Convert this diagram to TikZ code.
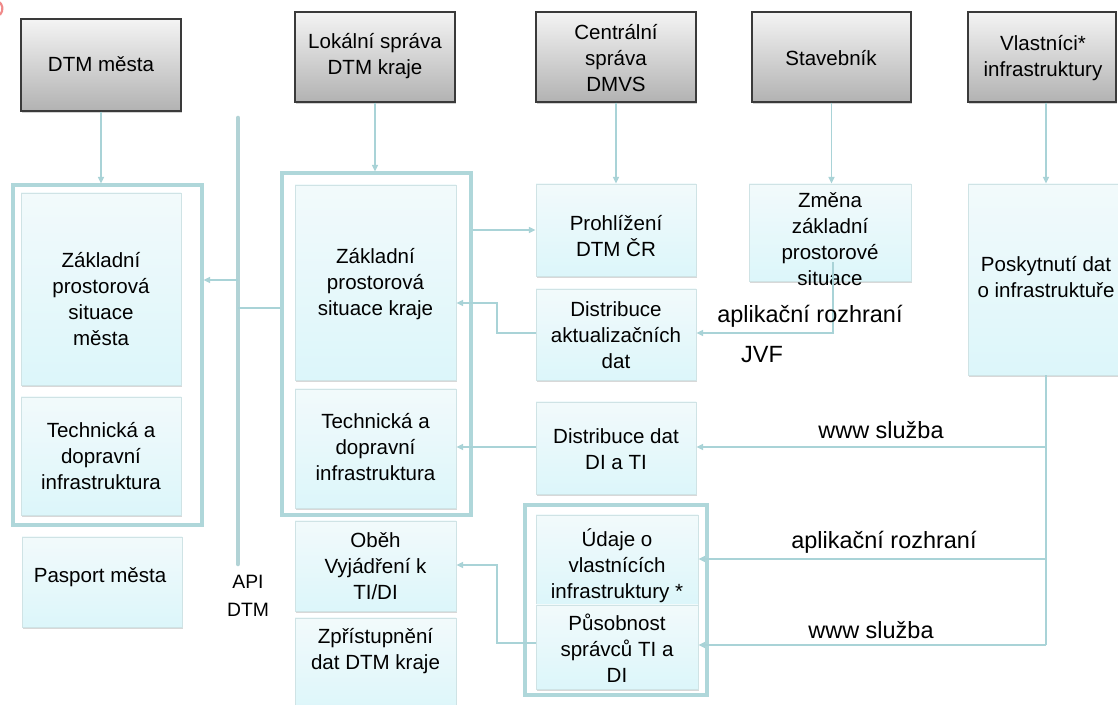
\documentclass[tikz,border=0pt]{standalone}
\usepackage{fontspec}
\setmainfont{Liberation Sans}
\usetikzlibrary{fit,shadows,arrows.meta,calc}

\definecolor{linkc}{HTML}{A9D3D7}
\definecolor{framec}{HTML}{AFD7DA}
\definecolor{apic}{HTML}{B2D3D6}
\definecolor{boxtop}{HTML}{F2FAFB}
\definecolor{boxbot}{HTML}{DCF6FA}
\definecolor{boxline}{HTML}{CFE3E5}
\definecolor{headtop}{HTML}{F4F4F4}
\definecolor{headbot}{HTML}{B2B2B2}
\definecolor{headline}{HTML}{3A3A3A}
\definecolor{markc}{HTML}{F08A8A}

\tikzset{
  head/.style={draw=headline, line width=1pt, top color=headtop, bottom color=headbot,
    inner sep=0pt,
    drop shadow={shadow xshift=1pt, shadow yshift=-1.5pt, opacity=0.35}},
  item/.style={draw=boxline, line width=0.6pt, top color=boxtop, bottom color=boxbot,
    inner sep=0pt,
    drop shadow={shadow xshift=0.8pt, shadow yshift=-1.5pt, opacity=0.3}},
  boxtext/.style={align=center, inner sep=0pt, font=\fontsize{15.4}{19.5}\selectfont},
  frame/.style={draw=framec, line width=2.3pt, inner sep=0pt},
  link/.style={draw=linkc, line width=1.1pt, -{Triangle[length=5pt,width=4.5pt]}},
  plain/.style={draw=linkc, line width=1.1pt},
  apibar/.style={draw=apic, line width=3.4pt, line cap=round},
  lbl/.style={font=\fontsize{17.6}{21}\selectfont, inner sep=0pt},
  apilbl/.style={font=\fontsize{14.5}{21}\selectfont, inner sep=0pt, align=center},
}

\begin{document}
\begin{tikzpicture}[x=0.75pt, y=-0.75pt]
\useasboundingbox (0,0) rectangle (1118,705);
\clip (0,0) rectangle (1118,705);
\fill[white] (0,0) rectangle (1118,705);

% small mark in the corner
\draw[markc, line width=1.6pt] (-2,1) .. controls (3,4) and (4,10) .. (0,15);

% actors
\node[head, fit={(21,19) (181,111)}] (dtmM) {};
\node[head, fit={(295,12) (455,102)}] (lokal) {};
\node[head, fit={(536,12) (696,102)}] (central) {};
\node[head, fit={(752,12) (911,102)}] (staveb) {};
\node[head, fit={(968,12) (1116,102)}] (vlast) {};
\node[boxtext] (dtmM-t) at (101,64) {DTM města};
\node[boxtext] (lokal-t) at (375,56) {Lokální správa\\DTM kraje};
\node[boxtext] (central-t) at (616,58) {Centrální\\správa\\DMVS};
\node[boxtext] (staveb-t) at (831,58) {Stavebník};
\node[boxtext] (vlast-t) at (1043,58) {Vlastníci*\\infrastruktury};

% group frames
\node[frame, fit={(13,185) (202,525)}] (fCity) {};
\node[frame, fit={(282,173) (471,515)}] (fKraj) {};
\node[frame, fit={(525,505) (707,695)}] (fOwn) {};

% city column
\node[item, fit={(21,193) (181,385)}] (zpsM) {};
\node[item, fit={(21,397) (181,515)}] (tdiM) {};
\node[item, fit={(22,537) (182,627)}] (pasM) {};
\node[boxtext] (zpsM-t) at (101,299) {Základní\\prostorová\\situace\\města};
\node[boxtext] (tdiM-t) at (101,456) {Technická a\\dopravní\\infrastruktura};
\node[boxtext] (pasM-t) at (100,577) {Pasport města};

% region column
\node[item, fit={(295,185) (456,380)}] (zpsK) {};
\node[item, fit={(295,389) (456,508)}] (tdiK) {};
\node[item, fit={(295,521) (456,611)}] (obeh) {};
\node[item, fit={(295,618) (456,714)}] (zpr) {};
\node[boxtext] (zpsK-t) at (375.5,284) {Základní\\prostorová\\situace kraje};
\node[boxtext] (tdiK-t) at (375.5,447) {Technická a\\dopravní\\infrastruktura};
\node[boxtext] (obeh-t) at (375.5,566) {Oběh\\Vyjádření k\\TI/DI};
\node[boxtext] (zpr-t) at (375.5,651) {Zpřístupnění\\dat DTM kraje};

% central services
\node[item, fit={(536,184) (696,276)}] (prohl) {};
\node[item, fit={(536,289) (696,380)}] (distA) {};
\node[item, fit={(536,402) (696,494)}] (distB) {};
\node[item, fit={(536,515) (698,605)}] (udaje) {};
\node[item, fit={(536,605) (698,689)}] (pusob) {};
\node[boxtext] (prohl-t) at (616,236) {Prohlížení\\DTM ČR};
\node[boxtext] (distA-t) at (616,335) {Distribuce\\aktualizačních\\dat};
\node[boxtext] (distB-t) at (616,449) {Distribuce dat\\DI a TI};
\node[boxtext] (udaje-t) at (617,566) {Údaje o\\vlastnících\\infrastruktury *};
\node[boxtext] (pusob-t) at (617,648) {Působnost\\správců TI a\\DI};

% builder and owners
\node[item, fit={(749,184) (911,281)}] (zmena) {};
\node[item, fit={(968,184) (1124,375)}] (posk) {};
\node[boxtext] (zmena-t) at (830,239) {Změna\\základní\\prostorové\\situace};
\node[boxtext] (posk-t) at (1046,277) {Poskytnutí dat\\o infrastruktuře};

% API bar
\coordinate (apiTop) at (238,118);
\coordinate (apiBot) at (238,564);
\draw[apibar] (apiTop) -- (apiBot);
\node[apilbl] (apiL) at (248,596) {API\\DTM};

% connectors from the actors
\draw[link] (dtmM.south) -- (dtmM.south |- fCity.north);
\draw[link] (lokal.south) -- (lokal.south |- fKraj.north);
\draw[link] (central.south) -- (central.south |- prohl.north);
\draw[link] (staveb.south) -- (staveb.south |- zmena.north);
\draw[link] (vlast.south -| posk.north) -- (posk.north);

% API links
\draw[link] (apiTop |- 0,280) -- (fCity.east |- 0,280);
\draw[plain] (fKraj.west |- 0,308) -- (apiTop |- 0,308);

% region data flows
\draw[link] (fKraj.east |- 0,230) -- (prohl.west |- 0,230);
\draw[link] (distA.west |- 0,333) -- (497,333) -- (497,303) -- (zpsK.east |- 0,303);
\coordinate (zTap) at (833,262);
\draw[link] (zTap) -- (zTap |- 0,333) -- (distA.east |- 0,333);
\draw[link] (distB.west |- 0,447) -- (tdiK.east |- 0,447);
\draw[link] (pusob.west |- 0,643) -- (497,643) -- (497,565) -- (obeh.east |- 0,565);

% owners' services
\draw[plain] (posk.south) -- (posk.south |- 0,645);
\draw[link] (posk.south |- 0,447) -- (distB.east |- 0,447);
\draw[link] (posk.south |- 0,559) -- (udaje.east |- 0,559);
\draw[link] (posk.south |- 0,645) -- (pusob.east |- 0,645);

% connector labels
\node[lbl] (l1) at (810,316) {aplikační rozhraní};
\node[lbl] (l2) at (762,355) {JVF};
\node[lbl] (l3) at (881,430) {www služba};
\node[lbl] (l4) at (884,542) {aplikační rozhraní};
\node[lbl] (l5) at (871,630) {www služba};
\end{tikzpicture}
\end{document}
